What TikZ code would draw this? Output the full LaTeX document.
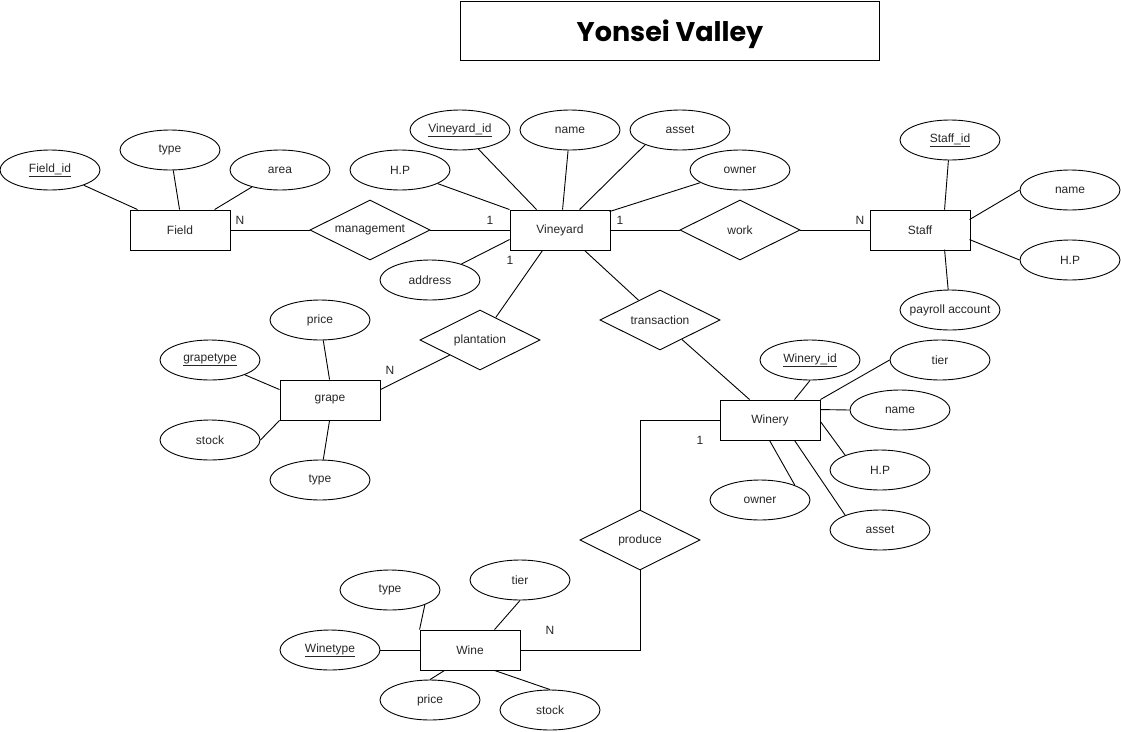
\documentclass[tikz,border=0pt]{standalone}
\usepackage{fontspec}
\setmainfont{Liberation Sans}
\newfontfamily\titlefont{Poppins}
\usetikzlibrary{shapes.geometric,calc}

\tikzset{
  ent/.style={draw, rectangle, minimum width=100pt, minimum height=40pt, inner sep=0pt},
  attr/.style={draw, ellipse, minimum width=100pt, minimum height=40pt, inner sep=0pt},
  rel/.style={draw, diamond, aspect=2, minimum width=120pt, minimum height=60pt, inner sep=0pt},
  card/.style={inner sep=0pt},
  every node/.style={font=\fontsize{12}{14}\selectfont, text=black!85},
  every path/.style={line width=0.9pt}
}

\begin{document}
\begin{tikzpicture}[x=1pt, y=-1pt]
\useasboundingbox (0,0) rectangle (1121,731);

% title
\node[draw, rectangle, minimum width=419pt, minimum height=59pt, inner sep=0pt] (title) at (670,30.5) {};
\node[font=\titlefont\bfseries\fontsize{27}{30}\selectfont, text=black] (titletext) at (670,34) {Yonsei Valley};

% ---------- Field ----------
\node[ent] (field) at (180,230) {Field};
\node[attr] (fid) at (50,170) {\underline{Field\_id}};
\node[attr] (ftype) at (170,150) {type};
\node[attr] (farea) at (280,170) {area};
\draw (fid) -- ($(field.north west)+(8,0)$);
\draw (ftype) -- ($(field.north west)+(50,0)$);
\draw (farea) -- ($(field.north west)+(85,0)$);

% ---------- Vineyard ----------
\node[rel] (mgmt) at (370,230) {management};
\node[ent] (vy) at (560,230) {Vineyard};
\node[attr] (vid) at (460,130) {\underline{Vineyard\_id}};
\node[attr] (vname) at (570,130) {name};
\node[attr] (vasset) at (680,130) {asset};
\node[attr] (vowner) at (740,170) {owner};
\node[attr] (vhp) at (400,170) {H.P};
\node[attr] (vaddr) at (430,280) {address};
\draw (field) -- (mgmt);
\draw (mgmt) -- (vy);
\draw (vid) -- ($(vy.north west)+(27,0)$);
\draw (vname) -- ($(vy.north west)+(53,0)$);
\draw (vasset.203) -- ($(vy.north west)+(70,0)$);
\draw (vowner) -- ($(vy.north west)+(100,2)$);
\draw (vhp) -- (vy.north west);
\draw (vaddr) -- ($(vy.north west)+(0,30)$);
\node[card] (cn1) at (240,220) {N};
\node[card] (c11) at (490,220) {1};

% ---------- Staff ----------
\node[rel] (work) at (740,230) {work};
\node[ent] (staff) at (920,230) {Staff};
\node[attr] (sid) at (950,140) {\underline{Staff\_id}};
\node[attr] (sname) at (1070,190) {name};
\node[attr] (shp) at (1070,260) {H.P};
\node[attr, inner xsep=-6pt] (spay) at (950,310) {payroll account};
\draw (vy) -- (work);
\draw (work) -- (staff);
\draw (sid) -- ($(staff.north west)+(75,0)$);
\draw (sname.west) -- ($(staff.north west)+(100,10)$);
\draw (shp.west) -- ($(staff.north west)+(100,30)$);
\draw (spay) -- ($(staff.north west)+(75,40)$);
\node[card] (c12) at (620,220) {1};
\node[card] (cn2) at (860,220) {N};

% ---------- grape ----------
\node[rel] (plant) at (480,340) {plantation};
\node[ent] (grape) at (330,400) {grape};
\node[attr] (gprice) at (320,320) {price};
\node[attr] (gkind) at (210,360) {\underline{grapetype}};
\node[attr] (gstock) at (210,440) {stock};
\node[attr] (gtype) at (320,480) {type};
\draw ($(vy.south west)+(33,0)$) -- (plant);
\draw (plant) -- ($(grape.north east)+(0,10)$);
\draw (gprice) -- ($(grape.north west)+(50,0)$);
\draw (gkind) -- ($(grape.north west)+(0,10)$);
\draw (gstock.east) -- (grape.south west);
\draw (gtype) -- ($(grape.south west)+(50,0)$);
\node[card] (c13) at (510,260) {1};
\node[card] (cn3) at (390,370) {N};

% ---------- Winery ----------
\node[rel] (trans) at (660,320) {transaction};
\node[ent] (wy) at (770,420) {Winery};
\node[attr] (wid) at (810,360) {\underline{Winery\_id}};
\node[attr] (wtier) at (940,360) {tier};
\node[attr] (wname) at (900,410) {name};
\node[attr] (whp) at (880,470) {H.P};
\node[attr] (wowner) at (760,500) {owner};
\node[attr] (wasset) at (880,530) {asset};
\draw ($(vy.south west)+(75,0)$) -- (trans);
\draw (trans) -- ($(wy.north west)+(30,0)$);
\draw (wid.south) -- ($(wy.north west)+(75,0)$);
\draw (wtier.west) -- (wy.north east);
\draw (wname.west) -- ($(wy.north east)+(0,10)$);
\draw (whp.157) -- ($(wy.north east)+(0,22)$);
\draw (wowner.23) -- ($(wy.south west)+(50,0)$);
\draw (wasset.157) -- ($(wy.south west)+(75,0)$);
\node[card] (c14) at (700,440) {1};

% ---------- Wine ----------
\node[rel] (prod) at (640,540) {produce};
\node[ent] (wine) at (470,650) {Wine};
\node[attr] (ntype) at (390,590) {type};
\node[attr] (ntier) at (520,580) {tier};
\node[attr] (nkind) at (330,650) {\underline{Winetype}};
\node[attr] (nprice) at (430,700) {price};
\node[attr] (nstock) at (550,710) {stock};
\draw (wy.west) -| (prod.north);
\draw (prod.south) |- (wine.east);
\draw (ntype.-23) -- (wine.north west);
\draw (ntier.south) -- ($(wine.north west)+(75,0)$);
\draw (nkind) -- (wine);
\draw (nprice.north) -- ($(wine.south west)+(25,0)$);
\draw (nstock.north) -- ($(wine.south west)+(75,0)$);
\node[card] (cn4) at (550,630) {N};
\end{tikzpicture}
\end{document}
